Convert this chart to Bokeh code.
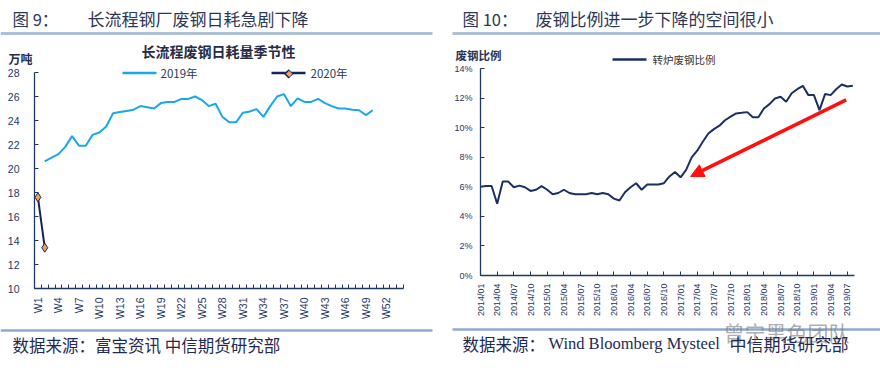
import math
from bokeh.plotting import figure
from bokeh.models import (Label, Arrow, NormalHead, FixedTicker, Range1d, PrintfTickFormatter)
from bokeh.layouts import row, column
from bokeh.embed import file_html
from bokeh.resources import INLINE

# ---------------- data: left chart (weekly, 万吨) ----------------
week_labels = ["W1", "W4", "W7", "W10", "W13", "W16", "W19", "W22", "W25", "W28",
               "W31", "W34", "W37", "W40", "W43", "W46", "W49", "W52"]
week_label_pos = [1, 4, 7, 10, 13, 16, 19, 22, 25, 28, 31, 34, 37, 40, 43, 46, 49, 52]
n_week_slots = 54
weeks_2019 = list(range(2, 51))
vals_2019 = [20.6, 20.9, 21.2, 21.8, 22.7, 21.9, 21.9, 22.8, 23.0, 23.5,
             24.6, 24.7, 24.8, 24.9, 25.2, 25.1, 25.0, 25.45, 25.55, 25.55,
             25.8, 25.8, 26.0, 25.7, 25.2, 25.4, 24.3, 23.85, 23.85, 24.65,
             24.75, 24.95, 24.3, 25.2, 26.0, 26.2, 25.2, 25.85, 25.55, 25.55,
             25.8, 25.45, 25.2, 25.0, 25.0, 24.9, 24.85, 24.45, 24.85]
weeks_2020 = [1, 2]
vals_2020 = [17.6, 13.4]

# ---------------- data: right chart (monthly, %) ----------------
month_tick_labels = ["2014/01", "2014/04", "2014/07", "2014/10", "2015/01", "2015/04",
                     "2015/07", "2015/10", "2016/01", "2016/04", "2016/07", "2016/10",
                     "2017/01", "2017/04", "2017/07", "2017/10", "2018/01", "2018/04",
                     "2018/07", "2018/10", "2019/01", "2019/04", "2019/07"]
scrap_ratio = [6.0, 6.05, 6.05, 4.85, 6.35, 6.35, 5.97, 6.08, 5.97, 5.72,
               5.8, 6.05, 5.8, 5.5, 5.58, 5.8, 5.58, 5.5, 5.5, 5.5,
               5.58, 5.5, 5.58, 5.5, 5.2, 5.07, 5.63, 5.97, 6.24, 5.8,
               6.15, 6.15, 6.15, 6.24, 6.7, 7.0, 6.64, 7.14, 7.99, 8.44,
               9.05, 9.6, 9.9, 10.13, 10.5, 10.74, 10.96, 11.0, 11.05, 10.7,
               10.7, 11.3, 11.59, 11.97, 12.09, 11.75, 12.33, 12.6, 12.83, 12.2,
               12.2, 11.19, 12.27, 12.2, 12.6, 12.92, 12.78, 12.83]
month_idx = list(range(len(scrap_ratio)))
arrow_from = (65.8, 11.88)
arrow_to = (37.8, 6.70)

NAVY = "#1F3864"
TITLE_C = "#2E3756"
CJK = "Noto Sans CJK SC"
SANS = "Liberation Sans"
H = 372

# page-pixel plot-area geometry for each panel
L_FRAME = dict(left=34, right=403, top=72, bottom=288)     # left chart
R_FRAME = dict(left=480, right=854, top=68, bottom=275)    # right chart
L_X = (0.5, n_week_slots + 0.5)
L_Y = (10, 28)
R_X = (0, 67.3)
R_Y = (0, 14)


def mapper(frame, xr, yr):
    def fx(px):
        return xr[0] + (px - frame["left"]) * (xr[1] - xr[0]) / (frame["right"] - frame["left"])

    def fy(py):
        return yr[0] + (frame["bottom"] - py) * (yr[1] - yr[0]) / (frame["bottom"] - frame["top"])
    return fx, fy


def lab(p, m, px, py, text, size, color, font=CJK, bold=False, align="left", alpha=1.0):
    fx, fy = m
    p.add_layout(Label(x=fx(px), y=fy(py), text=text,
                       text_font_size=f"{size}px", text_color=color, text_font=font,
                       text_font_style="bold" if bold else "normal",
                       text_align=align, text_baseline="middle", text_alpha=alpha))


def hline(p, m, px0, px1, py, color, width):
    fx, fy = m
    p.add_layout(Arrow(end=None, x_start=fx(px0), y_start=fy(py), x_end=fx(px1), y_end=fy(py),
                       line_color=color, line_width=width))


def base_fig(page_x0, w, frame, xr, yr):
    fx, fy = mapper(frame, xr, yr)
    p = figure(width=w, height=H, output_backend="svg", toolbar_location=None,
               x_range=Range1d(fx(page_x0), fx(page_x0 + w)),
               y_range=Range1d(fy(H), fy(0)),
               min_border=0, min_border_left=0, min_border_right=0,
               min_border_top=0, min_border_bottom=0)
    p.outline_line_color = None
    p.xgrid.visible = False
    p.ygrid.visible = False
    p.background_fill_color = "white"
    p.border_fill_color = "white"
    p.xaxis.fixed_location = yr[0]
    p.yaxis.fixed_location = xr[0]
    p.xaxis.bounds = xr
    p.yaxis.bounds = yr
    for ax in (p.xaxis[0], p.yaxis[0]):
        ax.axis_line_color = NAVY
        ax.axis_line_width = 1.3
        ax.major_tick_line_color = NAVY
        ax.minor_tick_line_color = NAVY
        ax.major_label_text_color = NAVY
        ax.major_label_text_font = SANS
    return p, (fx, fy)


# ================= left chart =================
p1, m1 = base_fig(0, 444, L_FRAME, L_X, L_Y)
p1.yaxis.ticker = FixedTicker(ticks=list(range(10, 29, 2)))
p1.yaxis.major_tick_in = 4
p1.yaxis.major_tick_out = 0
p1.yaxis.minor_tick_line_color = None
p1.yaxis.major_label_standoff = 15
p1.yaxis.major_label_text_font_size = "10.5px"
p1.xaxis.ticker = FixedTicker(ticks=week_label_pos,
                              minor_ticks=[i + 0.5 for i in range(0, n_week_slots + 1)])
p1.xaxis.major_label_overrides = {pos: lbl for pos, lbl in zip(week_label_pos, week_labels)}
p1.xaxis.major_tick_in = 0
p1.xaxis.major_tick_out = 0
p1.xaxis.minor_tick_in = 4
p1.xaxis.minor_tick_out = 0
p1.xaxis.major_label_orientation = math.pi / 2
p1.xaxis.major_label_standoff = 9
p1.xaxis.major_label_text_font_size = "10.5px"

p1.line(weeks_2019, vals_2019, line_color="#1AA7EC", line_width=2)
p1.line(weeks_2020, vals_2020, line_color="#16245A", line_width=2)
p1.scatter(weeks_2020, vals_2020, marker="diamond", size=9,
           fill_color="#EFA25C", line_color="#16245A", line_width=1)

# legend (manual)
hline(p1, m1, 122, 156, 72.5, "#1AA7EC", 2.5)
lab(p1, m1, 160, 72.5, "2019年", 11.5, NAVY)
hline(p1, m1, 271, 305, 72.5, "#16245A", 2.5)
lab(p1, m1, 288, 72.5, "◆", 12, "#16245A", font=SANS, align="center")
lab(p1, m1, 288, 72.5, "◆", 8, "#EFA25C", font=SANS, align="center")
lab(p1, m1, 310, 72.5, "2020年", 11.5, NAVY)

lab(p1, m1, 12, 18, "图 9：", 16.5, TITLE_C)
lab(p1, m1, 87, 18, "长流程钢厂废钢日耗急剧下降", 17, TITLE_C)
hline(p1, m1, 0, 432, 33, "#ADC0D6", 3)
lab(p1, m1, 218, 50, "长流程废钢日耗量季节性", 14, "#262C47", bold=True, align="center")
lab(p1, m1, 8, 58, "万吨", 12, "#262C47", bold=True)
hline(p1, m1, 0, 432, 330, "#8EAAD2", 2.5)
lab(p1, m1, 12, 344, "数据来源：富宝资讯 中信期货研究部", 16.5, "#1F2A55")

# ================= right chart =================
p2, m2 = base_fig(444, 436, R_FRAME, R_X, R_Y)
p2.yaxis.ticker = FixedTicker(ticks=list(range(0, 15, 2)))
p2.yaxis.formatter = PrintfTickFormatter(format="%d%%")
p2.yaxis.major_tick_in = 4
p2.yaxis.major_tick_out = 0
p2.yaxis.minor_tick_line_color = None
p2.yaxis.major_label_standoff = 8
p2.yaxis.major_label_text_font_size = "9px"
month_tick_pos = [3 * i for i in range(len(month_tick_labels))]
p2.xaxis.ticker = FixedTicker(ticks=month_tick_pos, minor_ticks=[])
p2.xaxis.major_label_overrides = {pos: lbl for pos, lbl in zip(month_tick_pos, month_tick_labels)}
p2.xaxis.major_tick_in = 4
p2.xaxis.major_tick_out = 0
p2.xaxis.minor_tick_line_color = None
p2.xaxis.major_label_orientation = math.pi / 2
p2.xaxis.major_label_standoff = 8
p2.xaxis.major_label_text_font_size = "9px"

p2.line(month_idx, scrap_ratio, line_color="#1B2F63", line_width=2)
p2.add_layout(Arrow(end=NormalHead(size=13, fill_color="#FF1010", line_color="#FF1010"),
                    x_start=arrow_from[0], y_start=arrow_from[1],
                    x_end=arrow_to[0], y_end=arrow_to[1],
                    line_color="#FF1010", line_width=3.5))

hline(p2, m2, 612, 646, 59, "#1B2F63", 2.5)
lab(p2, m2, 652, 59, "转炉废钢比例", 10.5, "#333333")

lab(p2, m2, 462, 18, "图 10：", 16.5, TITLE_C)
lab(p2, m2, 535, 18, "废钢比例进一步下降的空间很小", 17, TITLE_C)
hline(p2, m2, 452, 880, 33, "#ADC0D6", 3)
lab(p2, m2, 455, 54, "废钢比例", 11.5, "#2E3550", bold=True)
hline(p2, m2, 452, 880, 329, "#8EAAD2", 2.5)
lab(p2, m2, 723, 331, "曾宁黑色团队", 21, "#777777", alpha=0.6)
lab(p2, m2, 462, 343, "数据来源：", 16.5, "#1F2A55")
lab(p2, m2, 548, 343, "Wind Bloomberg Mysteel", 16.5, "#1F2A55", font="Liberation Serif")
lab(p2, m2, 729, 343, "中信期货研究部", 17, "#1F2A55")

layout = row(column(p1), column(p2))
open("out.html", "w").write(file_html(layout, INLINE))
